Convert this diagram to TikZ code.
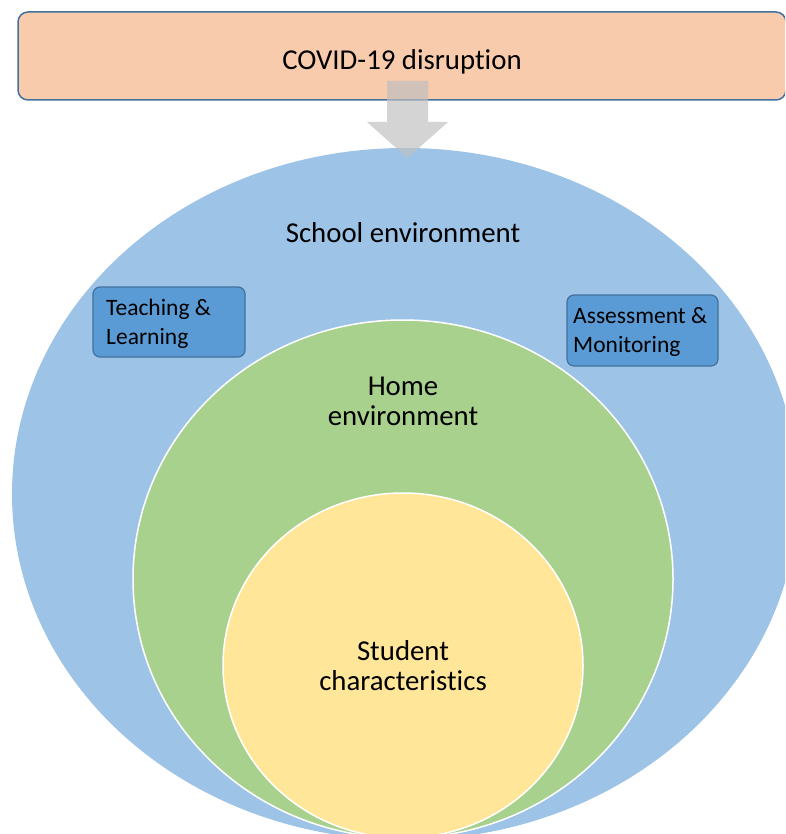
\documentclass[tikz,border=0pt]{standalone}
\usepackage{fontspec}
\setmainfont{Carlito}[Ligatures=NoCommon]
\begin{document}
\begin{tikzpicture}[x=1pt,y=-1pt,
  topbox/.style={draw=boxedge,line width=1.5pt,fill=covid,rounded corners=10pt},
  smallbox/.style={draw=boxedge,line width=1.2pt,fill=innerblue,rounded corners=7pt},
  lbl/.style={font=\fontsize{28.8}{30}\selectfont,align=center,text=black},
  slbl/.style={font=\fontsize{23.5}{29}\selectfont,align=left,text=black,anchor=north west,inner sep=0pt}]
\definecolor{covid}{HTML}{F8CBAD}
\definecolor{boxedge}{HTML}{41719C}
\definecolor{outerblue}{HTML}{9DC3E6}
\definecolor{innerblue}{HTML}{5B9BD5}
\definecolor{homegreen}{HTML}{A9D18E}
\definecolor{studyellow}{HTML}{FFE699}
\definecolor{arrowgray}{HTML}{BFBFBF}
\useasboundingbox (0,0) rectangle (785,834);
\clip (0,0) rectangle (785,834);
% top box
\draw[topbox] (18,12) rectangle (786,100);
\node[lbl] (covid) at (402,62) {COVID-19 disruption};
% ellipses
\fill[outerblue] (405,494) ellipse [x radius=393, y radius=346];
\draw[white,line width=1.5pt,fill=homegreen] (403,579) ellipse [x radius=270, y radius=259];
\draw[white,line width=1.5pt,fill=studyellow] (403,665.5) ellipse [x radius=180, y radius=172.5];
\coordinate (school) at (403,233);
\node[lbl] (schooltxt) at (school) {School environment};
\node[lbl] (home) at (403,401) {Home\\environment};
\node[lbl] (student) at (403,666) {Student\\characteristics};
% small boxes
\draw[smallbox] (93,287) rectangle (245,357);
\node[slbl] (teach) at (106,299) {Teaching \&\\Learning};
\draw[smallbox] (567,295) rectangle (718,366);
\node[slbl] (assess) at (573,307) {Assessment \&\\Monitoring};
% arrow
\fill[arrowgray,opacity=0.68] (387,81) -- (428,81) -- (428,122) -- (448,122) -- (407.5,158) -- (367,122) -- (387,122) -- cycle;
\end{tikzpicture}
\end{document}
